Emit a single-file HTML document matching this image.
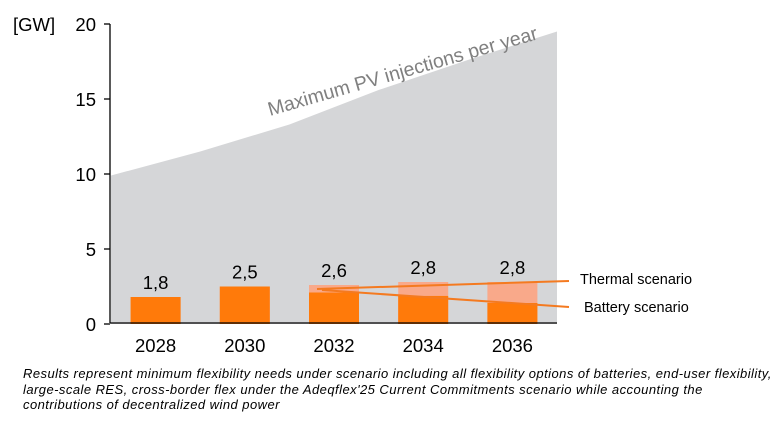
<!DOCTYPE html>
<html><head><meta charset="utf-8"><style>
body{margin:0;background:#fff;width:781px;height:423px;overflow:hidden;font-family:"Liberation Sans",sans-serif}
#note{position:absolute;left:23px;top:366px;font-size:13px;letter-spacing:0.45px;font-style:italic;line-height:15.5px;color:#000;width:770px;white-space:nowrap}
</style></head><body>
<svg id="chart" width="781" height="360" style="position:absolute;left:0;top:0" font-family="Liberation Sans, sans-serif"></svg>
<div id="note">Results represent minimum flexibility needs under scenario including all flexibility options of batteries, end-user flexibility,<br>large-scale RES, cross-border flex under the Adeqflex'25 Current Commitments scenario while accounting the<br>contributions of decentralized wind power</div>
<script>
const years=[2028,2030,2032,2034,2036];
const totals=[1.8,2.5,2.6,2.8,2.8];
const batteryVals=[1.8,2.5,2.1,1.87,1.4];
const labels=["1,8","2,5","2,6","2,8","2,8"];
const areaYears=[2027,2029,2031,2033,2035,2037];
const areaVals=[9.9,11.5,13.3,15.6,17.6,19.5];
const yTicks=[0,5,10,15,20];
const NS="http://www.w3.org/2000/svg";
const svg=document.getElementById('chart');
const x=yr=>111+(yr-2027)*44.6;
const y=v=>324-v*15;
function mk(t,a,p){const e=document.createElementNS(NS,t);for(const k in a)e.setAttribute(k,a[k]);(p||svg).appendChild(e);return e;}
let d=`M${x(areaYears[0])},${y(0)}`;areaYears.forEach((yr,i)=>d+=` L${x(yr)},${y(areaVals[i])}`);d+=` L${x(areaYears[areaYears.length-1])},${y(0)} Z`;
const area=mk('path',{d:d,fill:'#d5d6d8'});


const at=mk('text',{x:270,y:116,'font-size':19.5,fill:'#808080',transform:'rotate(-16 270 116)'});
at.textContent='Maximum PV injections per year';


const bw=50;
years.forEach((yr,i)=>{
 const cx=x(yr);
 const lt=mk('rect',{x:cx-bw/2,y:y(totals[i]),width:bw,height:y(0)-y(totals[i]),fill:'#f9a98a'});
 
 
 const dk=mk('rect',{x:cx-bw/2,y:y(batteryVals[i]),width:bw,height:y(0)-y(batteryVals[i]),fill:'#ff7a0a'});
 
 
 const vl=mk('text',{x:cx,y:y(totals[i])-8,'font-size':18.5,'text-anchor':'middle',fill:'#000'});
 vl.textContent=labels[i];
 
 
 const xl=mk('text',{x:cx,y:352,'font-size':18.5,'text-anchor':'middle',fill:'#000'});
 xl.textContent=yr;
 
 
});
const ax=mk('line',{x1:110,y1:24,x2:110,y2:323,stroke:'#000','stroke-width':1.3});


const xax=mk('line',{x1:110,y1:323,x2:557,y2:323,stroke:'#000','stroke-width':1.3});


yTicks.forEach(v=>{
 mk('line',{x1:104,y1:y(v),x2:110,y2:y(v),stroke:'#000','stroke-width':1.3});
 const t=mk('text',{x:96,y:y(v)+7,'font-size':18.5,'text-anchor':'end'});
 t.textContent=v;
 
 
});
const u=mk('text',{x:13,y:31,'font-size':18.5});u.textContent='[GW]';


const l1=mk('line',{x1:317,y1:289,x2:569,y2:281,stroke:'#f47a20','stroke-width':2});


const l2=mk('line',{x1:322,y1:290,x2:569,y2:307,stroke:'#f47a20','stroke-width':2});


const t1=mk('text',{x:580,y:284,'font-size':14.5});t1.textContent='Thermal scenario';


const t2=mk('text',{x:584,y:312,'font-size':14.5});t2.textContent='Battery scenario';


</script>
</body></html>
